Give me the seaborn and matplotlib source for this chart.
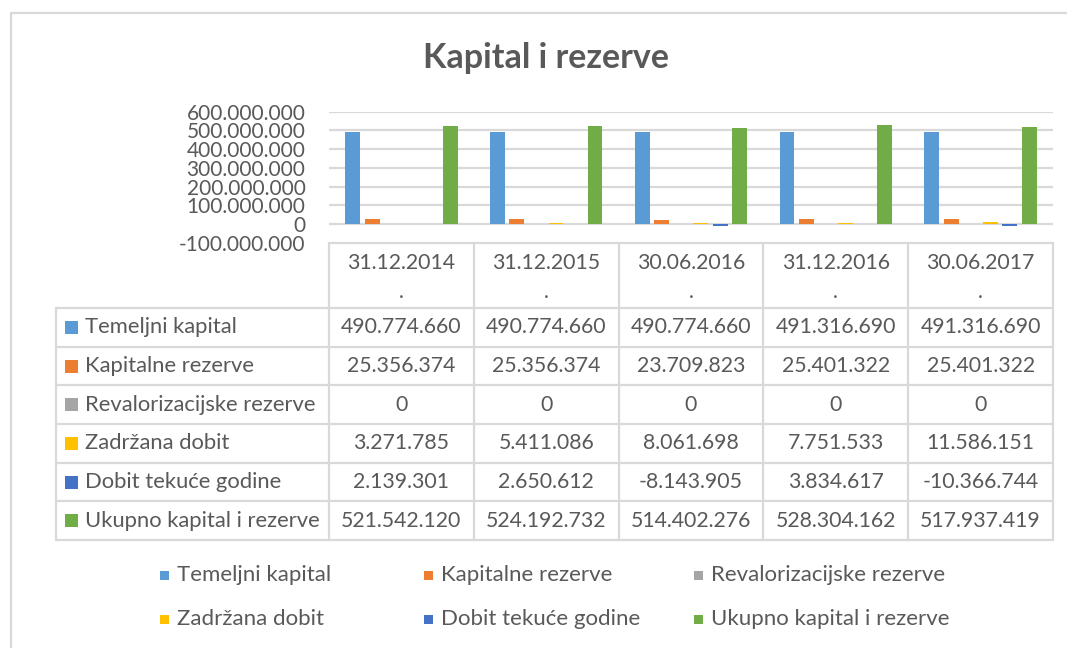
import matplotlib
matplotlib.use("Agg")
import matplotlib.pyplot as plt
from matplotlib.patches import Rectangle
from matplotlib.lines import Line2D
import pandas as pd
import seaborn as sns

dates = ["31.12.2014", "31.12.2015", "30.06.2016", "31.12.2016", "30.06.2017"]
series = ["Temeljni kapital", "Kapitalne rezerve", "Revalorizacijske rezerve",
          "Zadržana dobit", "Dobit tekuće godine", "Ukupno kapital i rezerve"]
temeljni = [490774660, 490774660, 490774660, 491316690, 491316690]
kapitalne = [25356374, 25356374, 23709823, 25401322, 25401322]
revalor = [0, 0, 0, 0, 0]
zadrzana = [3271785, 5411086, 8061698, 7751533, 11586151]
dobit = [2139301, 2650612, -8143905, 3834617, -10366744]
ukupno = [521542120, 524192732, 514402276, 528304162, 517937419]
colors = ["#5B9BD5", "#ED7D31", "#A5A5A5", "#FFC000", "#4472C4", "#70AD47"]

values = [temeljni, kapitalne, revalor, zadrzana, dobit, ukupno]
rows = []
for name, vals in zip(series, values):
    for d, v in zip(dates, vals):
        rows.append({"datum": d, "stavka": name, "iznos": v})
df = pd.DataFrame(rows)

sns.set_theme(style="white")
plt.rcParams["font.family"] = ["Lato", "DejaVu Sans"]

W, H = 1067, 648
fig = plt.figure(figsize=(W / 100, H / 100), dpi=100)
txt = "#595959"
grid = "#d9d9d9"

def fx(x):
    return x / W

def fy(y):
    return 1 - y / H

# outer chart border (cut off on the right and bottom like the screenshot)
fig.patches.append(Rectangle((fx(11), fy(660)), fx(1080) - fx(11), fy(13) - fy(660),
                             transform=fig.transFigure, fill=False,
                             edgecolor=grid, lw=1.6, clip_on=False))

fig.text(fx(546), fy(58), "Kapital i rezerve", ha="center", va="center",
         fontsize=24.5, fontweight="bold", color=txt)

# plot area
x0, x1, ytop, ybot = 329, 1053, 111.7, 243
ax = fig.add_axes([fx(x0), fy(ybot), fx(x1) - fx(x0), fy(ytop) - fy(ybot)])
sns.barplot(data=df, x="datum", y="iznos", hue="stavka", hue_order=series,
            palette=colors, saturation=1, width=0.81, gap=0.24,
            linewidth=0, legend=False, ax=ax)
ax.set_xlim(-0.5, len(dates) - 0.5)
ax.set_ylim(-100_000_000, 600_000_000)
ticks = list(range(-100_000_000, 600_000_001, 100_000_000))
ax.set_yticks(ticks)
ax.set_yticklabels([f"{t:,}".replace(",", ".") for t in ticks])
ax.tick_params(axis="y", length=0, pad=17, labelsize=15, labelcolor=txt)
ax.tick_params(axis="x", bottom=False, labelbottom=False)
ax.set_xlabel("")
ax.set_ylabel("")
for s in ax.spines.values():
    s.set_visible(False)
ax.yaxis.grid(True, color=grid, lw=1.6)
ax.get_ygridlines()[0].set_visible(False)
ax.set_axisbelow(True)

# data table below the plot
col_x = [329 + 144.8 * i for i in range(len(dates) + 1)]
row_y = [308 + 38.67 * i for i in range(len(series) + 1)]
left = 56

def hline(y, xa, xb):
    fig.lines.append(Line2D([fx(xa), fx(xb)], [fy(y), fy(y)], transform=fig.transFigure,
                            color=grid, lw=1.6))

def vline(x, ya, yb):
    fig.lines.append(Line2D([fx(x), fx(x)], [fy(ya), fy(yb)], transform=fig.transFigure,
                            color=grid, lw=1.6))

hline(243, col_x[0], col_x[-1])
for y in row_y:
    hline(y, left, col_x[-1])
vline(left, row_y[0], row_y[-1])
for x in col_x:
    vline(x, 243, row_y[-1])

for i, d in enumerate(dates):
    cx = (col_x[i] + col_x[i + 1]) / 2
    fig.text(fx(cx), fy(263), d, ha="center", va="center", fontsize=15.3, color=txt)
    fig.text(fx(cx), fy(292), ".", ha="center", va="center", fontsize=15.3, color=txt)

for r, (name, vals, c) in enumerate(zip(series, values, colors)):
    cy = (row_y[r] + row_y[r + 1]) / 2
    fig.patches.append(Rectangle((fx(65), fy(cy + 6.5)), fx(13), 13 / H,
                                 transform=fig.transFigure, facecolor=c, lw=0))
    fig.text(fx(85), fy(cy), name, ha="left", va="center", fontsize=15.8, color=txt)
    for i, v in enumerate(vals):
        cx = (col_x[i] + col_x[i + 1]) / 2
        fig.text(fx(cx), fy(cy), f"{v:,}".replace(",", "."), ha="center",
                 va="center", fontsize=15.3, color=txt)

# legend
leg_x = [160, 424, 694]
leg_y = [575, 619]
for k, (name, c) in enumerate(zip(series, colors)):
    lx = leg_x[k % 3]
    ly = leg_y[k // 3]
    fig.patches.append(Rectangle((fx(lx), fy(ly + 4.5)), fx(9), 9 / H,
                                 transform=fig.transFigure, facecolor=c, lw=0))
    fig.text(fx(lx + 17), fy(ly), name, ha="left", va="center", fontsize=16, color=txt)

fig.savefig("out.png", dpi=100)
